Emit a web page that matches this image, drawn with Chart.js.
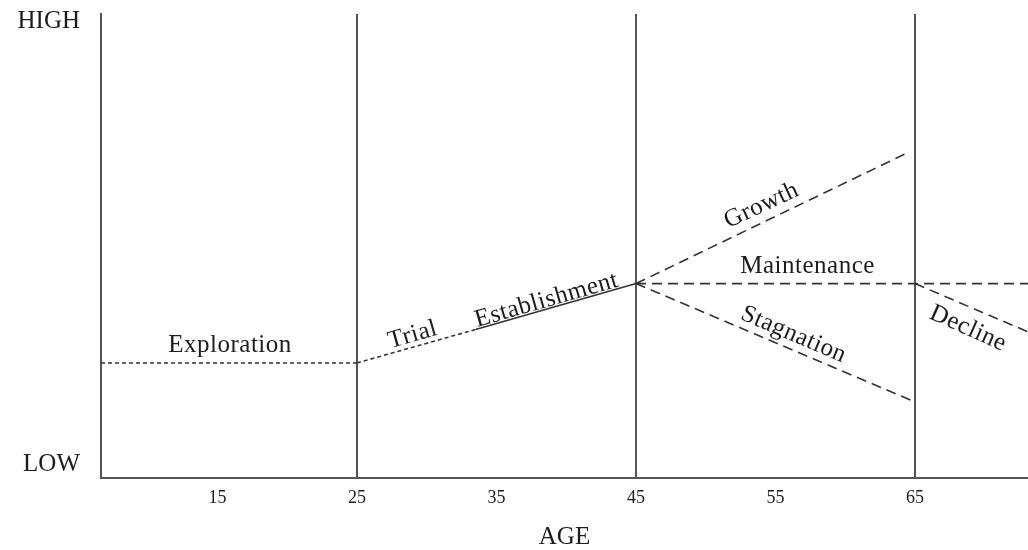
<!DOCTYPE html>
<html>
<head>
<meta charset="utf-8">
<script src="https://cdn.jsdelivr.net/npm/chart.js@4"></script>
<style>
  html, body { margin: 0; padding: 0; background: #fff; }
  canvas { display: block; }
</style>
</head>
<body>
<canvas id="c" width="1028" height="550"></canvas>
<script>
// ---- data ----
const xTicks = [15, 25, 35, 45, 55, 65];
const stageBoundaries = [25, 45, 65];
const xRange = [6.65, 73.1];
const yTickValues = [2.9, 98.4];
const yTickLabels = ['LOW', 'HIGH'];
const xTitle = 'AGE';

const explorationX = [6.65, 25];
const explorationY = [24.8, 24.8];
const trialX = [25, 33.5];
const trialY = [24.8, 32.0];
const establishmentX = [33.5, 45];
const establishmentY = [32.0, 41.9];
const growthX = [45, 64.4];
const growthY = [41.9, 70.0];
const maintenanceX = [45, 73.1];
const maintenanceY = [41.9, 41.9];
const stagnationX = [45, 65];
const stagnationY = [41.9, 16.4];
const declineX = [65, 73.1];
const declineY = [41.9, 31.5];

const stageNames = ['Exploration', 'Trial', 'Establishment', 'Growth', 'Maintenance', 'Stagnation', 'Decline'];
const stageLabelX = [15.9, 29.0, 38.6, 54.0, 57.3, 56.3, 68.8];
const stageLabelY = [28.6, 30.8, 38.3, 58.7, 45.5, 30.9, 32.2];

// ---- styles ----
const labelAngles = [0, -16, -16, -25, 0, 23, 24];
const FONT = '"Liberation Serif", "Times New Roman", serif';
const TEXT = '#1c1c1c';
const LINE = '#333';
const dotted = [4, 3];
const dashed = [10, 6];

function pts(xs, ys) { return xs.map((x, i) => ({ x: x, y: ys[i] })); }
function seg(xs, ys, dash) {
  return { data: pts(xs, ys), borderColor: LINE, borderWidth: 1.6, borderDash: dash,
           pointRadius: 0, showLine: true, fill: false, tension: 0 };
}

const labelPlugin = {
  id: 'stageLabels',
  afterDatasetsDraw(chart) {
    const { ctx, scales: { x, y } } = chart;
    ctx.save();
    ctx.font = '25px ' + FONT;
    ctx.fillStyle = TEXT;
    ctx.textAlign = 'center';
    ctx.textBaseline = 'middle';
    try { ctx.letterSpacing = '0.5px'; } catch (e) {}
    stageNames.forEach((name, i) => {
      ctx.save();
      ctx.translate(x.getPixelForValue(stageLabelX[i]), y.getPixelForValue(stageLabelY[i]));
      ctx.rotate(labelAngles[i] * Math.PI / 180);
      ctx.fillText(name, 0, 0);
      ctx.restore();
    });
    ctx.restore();
  }
};

new Chart(document.getElementById('c'), {
  type: 'scatter',
  data: {
    datasets: [
      seg(explorationX, explorationY, dotted),
      seg(trialX, trialY, dotted),
      seg(establishmentX, establishmentY, []),
      seg(growthX, growthY, dashed),
      seg(maintenanceX, maintenanceY, dashed),
      seg(stagnationX, stagnationY, dashed),
      seg(declineX, declineY, dashed)
    ]
  },
  options: {
    responsive: false,
    animation: false,
    devicePixelRatio: 1,
    layout: { padding: { top: 14, right: 0, left: 0, bottom: 0 } },
    plugins: { legend: { display: false }, tooltip: { enabled: false } },
    scales: {
      x: {
        type: 'linear',
        min: xRange[0], max: xRange[1],
        afterBuildTicks: (s) => { s.ticks = xTicks.map(v => ({ value: v })); },
        afterFit: (s) => { s.height = 72; s.paddingLeft = 0; s.paddingRight = 0; },
        ticks: { color: TEXT, font: { family: FONT, size: 18 }, padding: 9, maxRotation: 0 },
        grid: {
          drawTicks: false,
          lineWidth: 2,
          color: (c) => (c.tick && stageBoundaries.includes(c.tick.value)) ? '#555' : 'rgba(0,0,0,0)'
        },
        border: { display: true, color: '#555', width: 2 },
        title: { display: true, text: xTitle, color: TEXT, font: { family: FONT, size: 25, lineHeight: 1 }, padding: { top: 0, bottom: 0 } }
      },
      y: {
        type: 'linear',
        min: 0, max: 100,
        afterBuildTicks: (s) => { s.ticks = yTickValues.map(v => ({ value: v })); },
        afterFit: (s) => { s.width = 101; s.paddingTop = 0; s.paddingBottom = 0; },
        ticks: {
          color: TEXT, font: { family: FONT, size: 25 }, padding: 21,
          callback: (v) => yTickLabels[yTickValues.indexOf(v)]
        },
        grid: { drawTicks: false, color: 'rgba(0,0,0,0)' },
        border: { display: true, color: '#555', width: 2 }
      }
    }
  },
  plugins: [labelPlugin]
});
</script>
</body>
</html>
